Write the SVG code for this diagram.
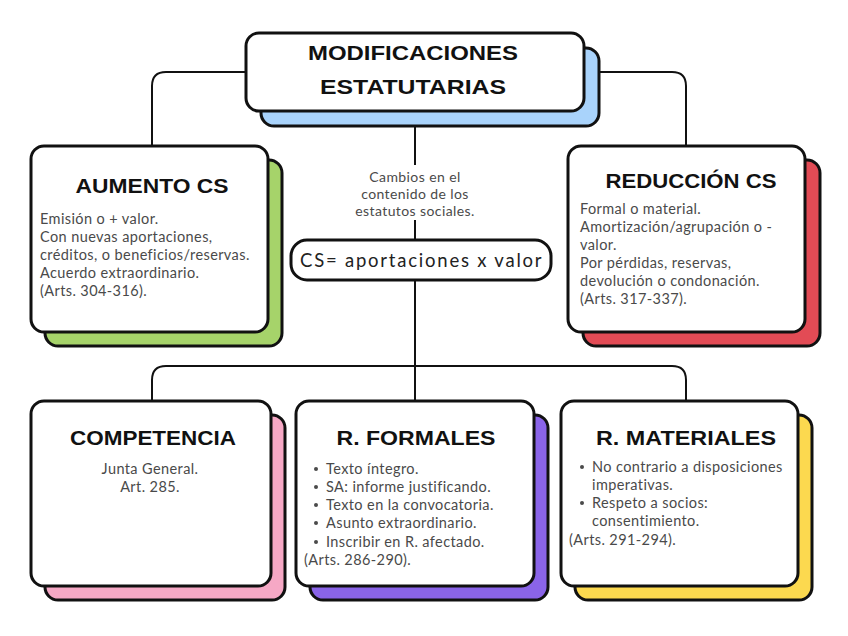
<svg xmlns="http://www.w3.org/2000/svg" width="848" height="636" viewBox="0 0 848 636">
<style>
.box{fill:#fff;stroke:#111;stroke-width:3}
.sh{stroke:#111;stroke-width:3}
.conn{fill:none;stroke:#111;stroke-width:2}
.title{font-family:"Liberation Sans",Arial,sans-serif;font-weight:bold;fill:#111;text-anchor:middle}
.body{font-family:Lato,"Open Sans",sans-serif;font-size:14.5px;letter-spacing:0.4px;fill:#4a4a4a}
.small{font-size:14px;letter-spacing:0.4px}
.mid{text-anchor:middle}
.dot{fill:#4a4a4a}
</style>
<rect width="848" height="636" fill="#fff"/>
<g id="connectors">
<path class="conn" d="M246 72 H166 Q152 72 152 86 V146"/>
<path class="conn" d="M584 72 H672 Q686 72 686 86 V146"/>
<path class="conn" d="M415 127 V165"/>
<path class="conn" d="M415 220 V240"/>
<path class="conn" d="M415 280 V402"/>
<path class="conn" d="M152 402 V380 Q152 366 166 366 H672 Q686 366 686 380 V402"/>
</g>
<g id="top">
<rect class="sh" x="261" y="48" width="338" height="78" rx="13" fill="#a9d3fb"/>
<rect class="box" x="246" y="33" width="338" height="78" rx="13"/>
<text class="title" x="413" y="60" font-size="21" textLength="210" lengthAdjust="spacingAndGlyphs">MODIFICACIONES</text>
<text class="title" x="413" y="94" font-size="21" textLength="186" lengthAdjust="spacingAndGlyphs">ESTATUTARIAS</text>
</g>
<g id="aumento">
<rect class="sh" x="45" y="160" width="237" height="186" rx="13" fill="#a6d36a"/>
<rect class="box" x="31" y="146" width="237" height="186" rx="13"/>
<text class="title" x="152" y="193" font-size="20" textLength="153" lengthAdjust="spacingAndGlyphs">AUMENTO CS</text>
<text class="body" x="40" y="224">Emisión o + valor.</text>
<text class="body" x="40" y="242">Con nuevas aportaciones,</text>
<text class="body" x="40" y="260">créditos, o beneficios/reservas.</text>
<text class="body" x="40" y="278">Acuerdo extraordinario.</text>
<text class="body" x="40" y="296">(Arts. 304-316).</text>
</g>
<g id="reduccion">
<rect class="sh" x="583" y="160" width="237" height="186" rx="13" fill="#e24b55"/>
<rect class="box" x="568" y="146" width="237" height="186" rx="13"/>
<text class="title" x="691" y="188" font-size="20" textLength="171" lengthAdjust="spacingAndGlyphs">REDUCCIÓN CS</text>
<text class="body" x="580" y="214">Formal o material.</text>
<text class="body" x="580" y="232">Amortización/agrupación o -</text>
<text class="body" x="580" y="250">valor.</text>
<text class="body" x="580" y="268">Por pérdidas, reservas,</text>
<text class="body" x="580" y="286">devolución o condonación.</text>
<text class="body" x="580" y="304">(Arts. 317-337).</text>
</g>
<g id="cambios">
<text class="body small mid" x="415" y="182">Cambios en el</text>
<text class="body small mid" x="415" y="199">contenido de los</text>
<text class="body small mid" x="415" y="216">estatutos sociales.</text>
</g>
<g id="cs">
<rect class="box" x="291" y="240" width="260" height="40" rx="16"/>
<text class="body mid" x="421" y="267" style="font-size:18.5px;fill:#222" textLength="242" lengthAdjust="spacing">CS= aportaciones x valor</text>
</g>
<g id="competencia">
<rect class="sh" x="45" y="415" width="240" height="185" rx="13" fill="#f6a8c5"/>
<rect class="box" x="31" y="401" width="240" height="185" rx="13"/>
<text class="title" x="153" y="445" font-size="20" textLength="166" lengthAdjust="spacingAndGlyphs">COMPETENCIA</text>
<text class="body mid" x="150" y="474">Junta General.</text>
<text class="body mid" x="150" y="492">Art. 285.</text>
</g>
<g id="formales">
<rect class="sh" x="310" y="415" width="238" height="185" rx="13" fill="#8a64e8"/>
<rect class="box" x="296" y="401" width="238" height="185" rx="13"/>
<text class="title" x="416" y="445" font-size="20" textLength="159" lengthAdjust="spacingAndGlyphs">R. FORMALES</text>
<circle class="dot" cx="316" cy="469" r="2"/><text class="body" x="326" y="474">Texto íntegro.</text>
<circle class="dot" cx="316" cy="487" r="2"/><text class="body" x="326" y="492">SA: informe justificando.</text>
<circle class="dot" cx="316" cy="505" r="2"/><text class="body" x="326" y="510">Texto en la convocatoria.</text>
<circle class="dot" cx="316" cy="523" r="2"/><text class="body" x="326" y="528">Asunto extraordinario.</text>
<circle class="dot" cx="316" cy="542" r="2"/><text class="body" x="326" y="547">Inscribir en R. afectado.</text>
<text class="body" x="304" y="565">(Arts. 286-290).</text>
</g>
<g id="materiales">
<rect class="sh" x="575" y="415" width="237" height="185" rx="13" fill="#fcd94f"/>
<rect class="box" x="561" y="401" width="237" height="185" rx="13"/>
<text class="title" x="686" y="445" font-size="20" textLength="180" lengthAdjust="spacingAndGlyphs">R. MATERIALES</text>
<circle class="dot" cx="582" cy="467" r="2"/><text class="body" x="592" y="472">No contrario a disposiciones</text>
<text class="body" x="592" y="490">imperativas.</text>
<circle class="dot" cx="582" cy="503" r="2"/><text class="body" x="592" y="508">Respeto a socios:</text>
<text class="body" x="592" y="526">consentimiento.</text>
<text class="body" x="569" y="545">(Arts. 291-294).</text>
</g>
</svg>
